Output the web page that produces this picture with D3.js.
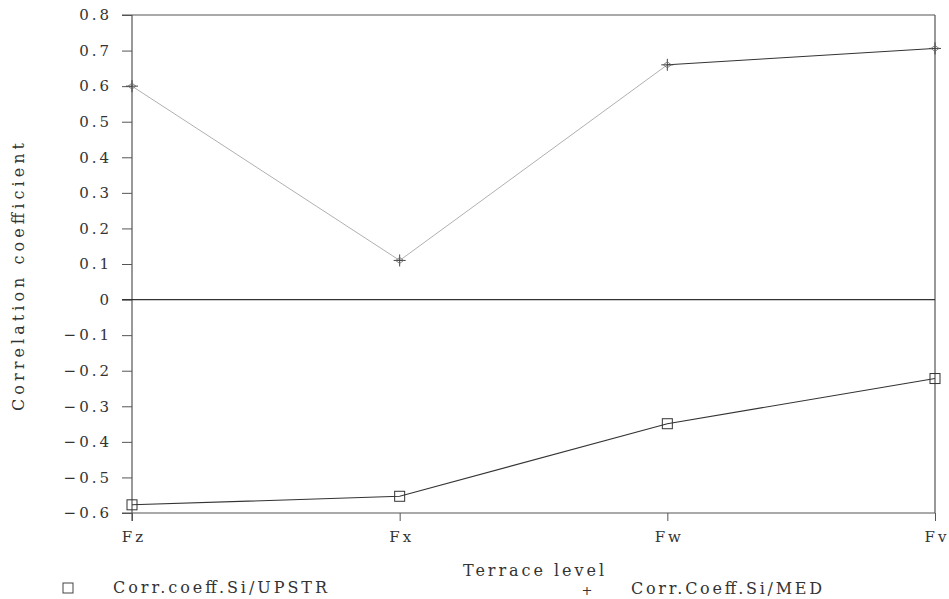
<!DOCTYPE html>
<html>
<head>
<meta charset="utf-8">
<script src="https://cdn.jsdelivr.net/npm/d3@7"></script>
<style>
  html, body { margin: 0; padding: 0; background: #fff; }
  svg { display: block; }
  svg text { font-family: "DejaVu Serif", serif; fill: #333; }
  .tick text { font-size: 15px; letter-spacing: 3px; }
</style>
</head>
<body>
<svg id="chart" width="949" height="599"></svg>
<script>
// Terrace levels along the x axis
const levels = ["Fz", "Fx", "Fw", "Fv"];
// Correlation of Si with upstream distance
const upstr = [-0.577, -0.553, -0.349, -0.222];
// Correlation of Si with median grain size
const med = [0.60, 0.11, 0.66, 0.706];
// Y axis ticks
const yTicks = [0.8, 0.7, 0.6, 0.5, 0.4, 0.3, 0.2, 0.1, 0, -0.1, -0.2, -0.3, -0.4, -0.5, -0.6];

const svg = d3.select("#chart");
const plotL = 132, plotR = 935, plotT = 15, plotB = 513;

const x = d3.scalePoint().domain(levels).range([plotL, plotR]);
const y = d3.scaleLinear().domain([-0.6, 0.8]).range([plotB, plotT]);

const fmt = v => v === 0 ? "0" : d3.format(".1f")(v).replace("-", "\u2212");

// Left axis
const yAxis = svg.append("g")
  .attr("transform", `translate(${plotL},0)`)
  .call(d3.axisLeft(y).tickValues(yTicks).tickFormat(fmt).tickSize(10).tickPadding(10));
yAxis.select(".domain").remove();
yAxis.selectAll("line").attr("stroke", "#555");

// Bottom axis
const xAxis = svg.append("g")
  .attr("transform", `translate(0,${plotB})`)
  .call(d3.axisBottom(x).tickSize(8).tickPadding(10));
xAxis.select(".domain").remove();
xAxis.selectAll("line").attr("stroke", "#555");
xAxis.selectAll("text").attr("dx", "1.5");

// Frame lines
const frame = svg.append("g").attr("stroke", "#555").attr("stroke-width", 1.2).attr("fill", "none");
frame.append("line").attr("x1", plotL).attr("x2", plotL).attr("y1", plotT).attr("y2", plotB + 8);
frame.append("line").attr("x1", plotL - 10).attr("x2", plotR).attr("y1", plotT).attr("y2", plotT);
frame.append("line").attr("x1", plotR).attr("x2", plotR).attr("y1", plotT).attr("y2", plotB);
frame.append("line").attr("x1", plotL - 10).attr("x2", plotR).attr("y1", plotB).attr("y2", plotB);
// Zero reference line
frame.append("line").attr("x1", plotL - 10).attr("x2", plotR).attr("y1", y(0)).attr("y2", y(0))
  .attr("stroke", "#333");

// UPSTR series
const line = d3.line().x((d, i) => x(levels[i])).y(d => y(d));
svg.append("path").datum(upstr).attr("d", line)
  .attr("fill", "none").attr("stroke", "#333").attr("stroke-width", 1.1);
svg.selectAll(".sq").data(upstr).join("rect")
  .attr("x", (d, i) => x(levels[i]) - 5).attr("y", d => y(d) - 5)
  .attr("width", 10).attr("height", 10)
  .attr("fill", "none").attr("stroke", "#333").attr("stroke-width", 1);

// MED series: segments drawn one by one
const segs = d3.pairs(med.map((v, i) => [x(levels[i]), y(v)]));
svg.selectAll(".seg").data(segs).join("line")
  .attr("x1", d => d[0][0]).attr("y1", d => d[0][1])
  .attr("x2", d => d[1][0]).attr("y2", d => d[1][1])
  .attr("stroke", (d, i) => i === 2 ? "#333" : "#b0b0b0")
  .attr("stroke-width", 1);
const plus = svg.selectAll(".pl").data(med).join("g")
  .attr("transform", (d, i) => `translate(${x(levels[i])},${y(d)})`);
plus.append("path").attr("d", "M-6,0H6M0,-6V6")
  .attr("stroke", "#444").attr("stroke-width", 1);
plus.append("path").attr("d", "M-4,0L0,-3L4,0L0,3Z")
  .attr("fill", "none").attr("stroke", "#666").attr("stroke-width", 0.8);

// Axis titles
svg.append("text")
  .attr("transform", `translate(24,277) rotate(-90)`)
  .attr("text-anchor", "middle").style("font-size", "16px")
  .attr("textLength", 268).attr("lengthAdjust", "spacing")
  .text("Correlation coefficient");
svg.append("text")
  .attr("x", 463).attr("y", 576).style("font-size", "16px")
  .attr("textLength", 141).attr("lengthAdjust", "spacing")
  .text("Terrace level");

// Legend
const legend = svg.append("g");
legend.append("rect").attr("x", 63).attr("y", 583).attr("width", 10).attr("height", 10)
  .attr("fill", "none").attr("stroke", "#444");
legend.append("text").attr("x", 113).attr("y", 593).style("font-size", "16px")
  .attr("textLength", 214).attr("lengthAdjust", "spacing")
  .text("Corr.coeff.Si/UPSTR");
legend.append("text").attr("x", 587).attr("y", 595).style("font-size", "13px")
  .attr("text-anchor", "middle").text("+");
legend.append("text").attr("x", 631).attr("y", 594).style("font-size", "16px")
  .attr("textLength", 191).attr("lengthAdjust", "spacing")
  .text("Corr.Coeff.Si/MED");
</script>
</body>
</html>
